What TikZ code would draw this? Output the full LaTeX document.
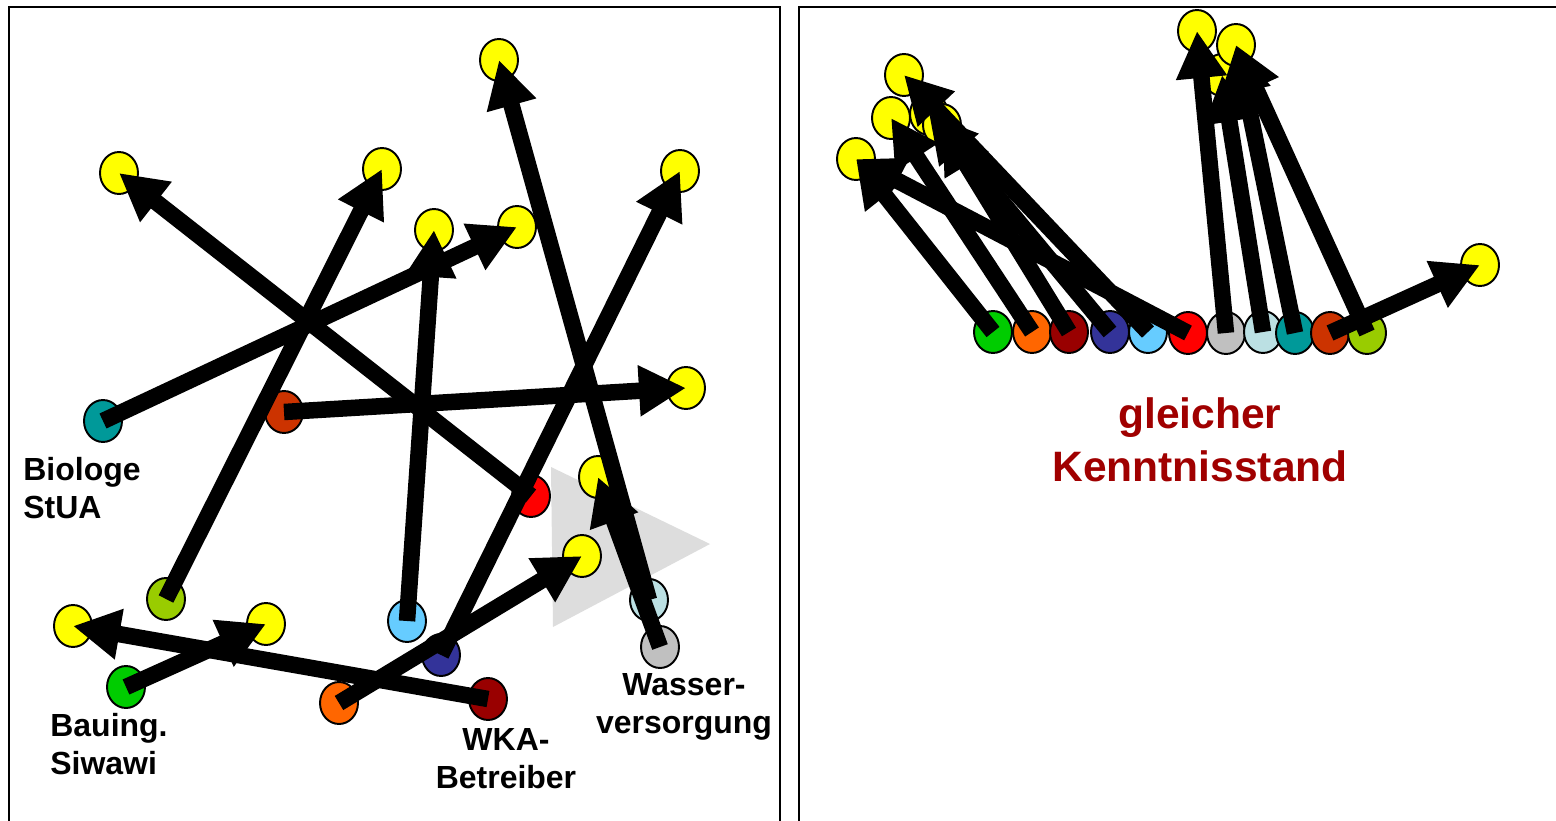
\documentclass[tikz,border=0pt]{standalone}
\usepackage{fontspec}
\setmainfont{Liberation Sans}
\usepackage{xcolor}
\usepackage{tikz}
\usetikzlibrary{arrows.meta}
\usetikzlibrary{shapes.geometric}

\definecolor{cteal}{HTML}{009999}
\definecolor{crost}{HTML}{CC3300}
\definecolor{crot}{HTML}{FF0000}
\definecolor{cmoos}{HTML}{99CC00}
\definecolor{chimmel}{HTML}{66CCFF}
\definecolor{cnavy}{HTML}{333399}
\definecolor{cgruen}{HTML}{00CC00}
\definecolor{corange}{HTML}{FF6600}
\definecolor{cwein}{HTML}{990000}
\definecolor{ceis}{HTML}{BBE0E3}
\definecolor{cgrau}{HTML}{C0C0C0}
\definecolor{cgelb}{HTML}{FFFF00}
\definecolor{ctitel}{HTML}{A00000}
\definecolor{cschatten}{HTML}{DDDDDD}

\tikzstyle{punkt} = [ellipse, draw=black, line width=1.1pt, inner sep=0pt, minimum width=0.76cm, minimum height=0.84cm]
\tikzstyle{ziel} = [punkt, fill=cgelb]
\tikzstyle{pfeil} = [line width=0.33cm, -{Triangle[length=0.94cm,width=0.96cm]}]
\tikzstyle{rahmen} = [line width=1.1pt]
\tikzstyle{schild} = [font=\bfseries\fontsize{18.2}{21.6}\selectfont, inner sep=0pt]

\begin{document}
\begin{tikzpicture}[
            x=0.02cm, y=-0.02cm
        ]
            \useasboundingbox (0,0) rectangle (1556,821);
            \fill[white] (0,0) rectangle (1556,821);
            \draw[rahmen] (9,7) rectangle (780,850);
            \draw[rahmen] (799,7) rectangle (1580,850);

            \fill[cschatten] (551,467) -- (710,544) -- (553,627) -- cycle;

            % links: jeder fuer sich
            \node[ziel] (ya) at (119,173) {};
            \node[ziel] (yb) at (382,169) {};
            \node[ziel] (yc) at (499,60) {};
            \node[ziel] (yd) at (434,230) {};
            \node[ziel] (ye) at (517,227) {};
            \node[ziel] (yf) at (680,171) {};
            \node[ziel] (yg) at (686,388) {};
            \node[ziel] (yh) at (598,477) {};
            \node[ziel] (yi) at (582,556) {};
            \node[ziel] (yj) at (73,626) {};
            \node[ziel] (yk) at (266,624) {};

            \node[punkt, fill=cteal] (bio) at (103,421) {};
            \node[punkt, fill=crost] (rost) at (284,412) {};
            \node[punkt, fill=crot] (rot) at (531,496) {};
            \node[punkt, fill=cmoos] (moos) at (166,599) {};
            \node[punkt, fill=chimmel] (himmel) at (407,621) {};
            \node[punkt, fill=cnavy] (navy) at (441,655) {};
            \node[punkt, fill=cgruen] (bau) at (126,687) {};
            \node[punkt, fill=corange] (orange) at (339,703) {};
            \node[punkt, fill=cwein] (wka) at (488,699) {};
            \node[punkt, fill=ceis] (eis) at (649,600) {};
            \node[punkt, fill=cgrau] (wasser) at (660,647) {};

            \draw[pfeil] (rot.center) -- (ya.center);
            \draw[pfeil] (moos.center) -- (yb.center);
            \draw[pfeil] (bio.center) -- (ye.center);
            \draw[pfeil] (himmel.center) -- (yd.center);
            \draw[pfeil] (rost.center) -- (yg.center);
            \draw[pfeil] (navy.center) -- (yf.center);
            \draw[pfeil] (eis.center) -- (yc.center);
            \draw[pfeil] (wasser.center) -- (yh.center);
            \draw[pfeil] (wka.center) -- (yj.center);
            \draw[pfeil] (bau.center) -- (yk.center);
            \draw[pfeil] (orange.center) -- (yi.center);

            \node[schild, anchor=north west, align=left] (lbio) at (23,457) {Biologe\\StUA};
            \node[schild, anchor=north west, align=left] (lbau) at (50,713) {Bauing.\\Siwawi};
            \node[schild, anchor=north, align=center] (lwka) at (506,728) {WKA-\\Betreiber};
            \node[schild, anchor=north, align=center] (lwasser) at (684,673) {Wasser-\\versorgung};

            % rechts: gleicher Stand
            \node[ziel] (ra) at (856,159) {};
            \node[ziel] (rb) at (891,118) {};
            \node[ziel] (rc) at (904,75) {};
            \node[ziel] (rd) at (929,114) {};
            \node[ziel] (re) at (942,125) {};
            \node[ziel] (rf) at (1197,31) {};
            \node[ziel] (rg) at (1222,75) {};
            \node[ziel] (rh) at (1236,45) {};
            \node[ziel] (ri) at (1480,265) {};

            \node[punkt, fill=cgruen] (qbau) at (993,332) {};
            \node[punkt, fill=corange] (qorange) at (1032,332) {};
            \node[punkt, fill=cwein] (qwka) at (1069,332) {};
            \node[punkt, fill=cnavy] (qnavy) at (1110,332) {};
            \node[punkt, fill=chimmel] (qhimmel) at (1148,332) {};
            \node[punkt, fill=crot] (qrot) at (1188,333) {};
            \node[punkt, fill=cgrau] (qwasser) at (1226,333) {};
            \node[punkt, fill=ceis] (qeis) at (1263,332) {};
            \node[punkt, fill=cteal] (qbio) at (1295,333) {};
            \node[punkt, fill=crost] (qrost) at (1330,333) {};
            \node[punkt, fill=cmoos] (qmoos) at (1367,333) {};

            \draw[pfeil] (qrot.center) -- (ra.center);
            \draw[pfeil] (qbau.center) -- (ra.center);
            \draw[pfeil] (qorange.center) -- (rb.center);
            \draw[pfeil] (qnavy.center) -- (rd.center);
            \draw[pfeil] (qwka.center) -- (re.center);
            \draw[pfeil] (qhimmel.center) -- (rc.center);
            \draw[pfeil] (qeis.center) -- (rg.center);
            \draw[pfeil] (qwasser.center) -- (rf.center);
            \draw[pfeil] (qbio.center) -- (rh.center);
            \draw[pfeil] (qmoos.center) -- (rh.center);
            \draw[pfeil] (qrost.center) -- (ri.center);

            \node[inner sep=0pt, anchor=north, align=center, text=ctitel,
                  font=\bfseries\fontsize{24.2}{30.2}\selectfont] (stand) at (1200,397) {gleicher\\Kenntnisstand};

        \end{tikzpicture}
\end{document}
